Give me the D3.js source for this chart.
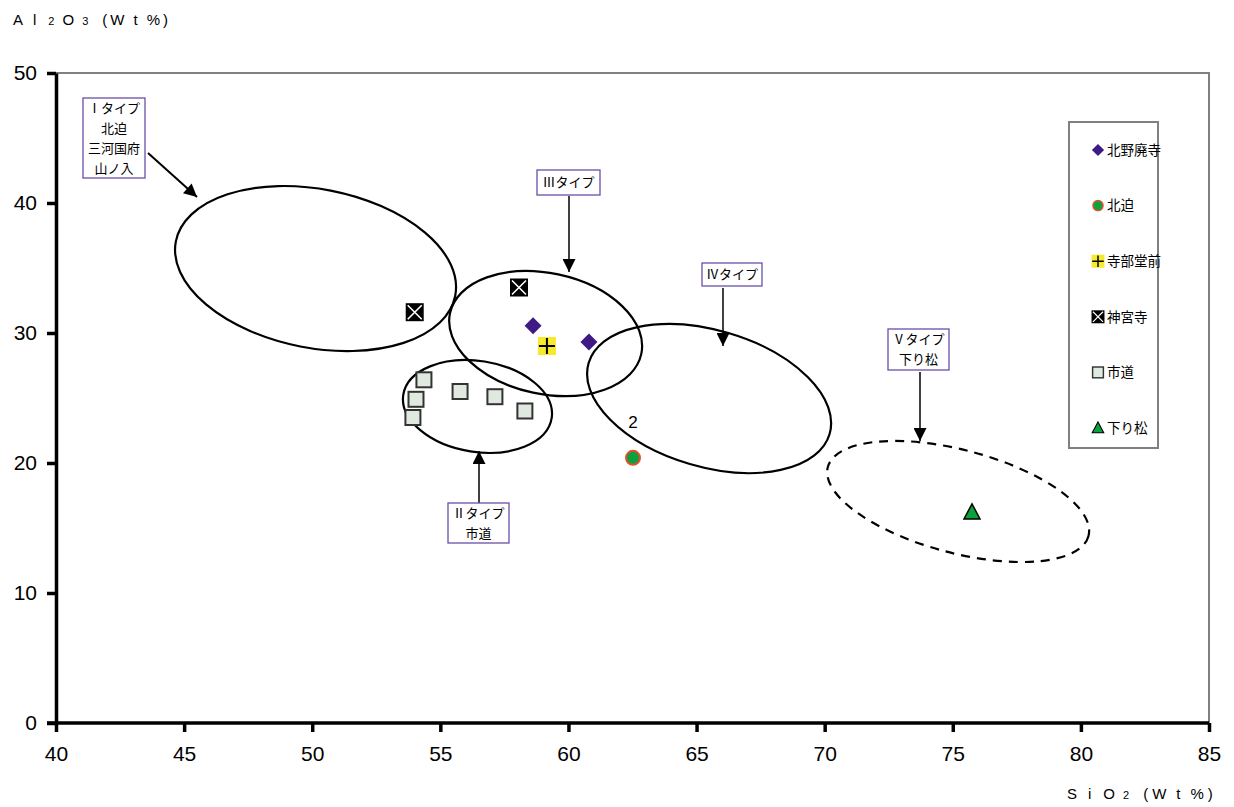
<!DOCTYPE html>
<html><head><meta charset="utf-8">
<script src="https://cdn.jsdelivr.net/npm/d3@7"></script>
<style>
body{margin:0;background:#fff;}
svg{display:block;}
.jp{font-family:"Noto Sans CJK JP","Noto Sans",sans-serif;}
.num{font-family:"Liberation Sans","DejaVu Sans",sans-serif;}
</style></head>
<body>
<svg id="c" width="1234" height="807"></svg>
<script>
// ---- data ----
const xTicks = [40,45,50,55,60,65,70,75,80,85];
const yTicks = [0,10,20,30,40,50];
const seriesNames = ["北野廃寺","北迫","寺部堂前","神宮寺","市道","下り松"];
const kitanoHaiji = [[58.62,30.55],[60.8,29.3]];
const hazama = [[62.52,20.4]];
const terabeDomae = [[59.16,29.0]];
const jinguji = [[54.0,31.6],[58.07,33.5]];
const ichimichi = [[54.36,26.4],[54.05,24.9],[53.93,23.5],[55.77,25.5],[57.13,25.1],[58.3,24.0]];
const sagarimatsu = [[75.75,16.2]];
const pointLabels = [{x:62.52,y:20.4,text:"2"}];
// type-group ellipses: center in data units
const groupCenters = [[50.13,34.96],[59.11,29.96],[56.45,24.35],[65.49,24.96],[75.21,17.04]];
const typeLabels = [["Ⅰタイプ","北迫","三河国府","山ノ入"],["Ⅲタイプ"],["Ⅱタイプ","市道"],["Ⅳタイプ"],["Ⅴタイプ","下り松"]];

// ---- layout ----
const svg = d3.select("#c");
const L=56, R=1209, T=73, B=723;
const x = d3.scaleLinear().domain([40,85]).range([L,R]);
const y = d3.scaleLinear().domain([0,50]).range([B,T]);

svg.append("defs").append("marker").attr("id","ah2").attr("viewBox","0 0 10 10")
  .attr("refX",10).attr("refY",5).attr("markerWidth",15).attr("markerHeight",13)
  .attr("markerUnits","userSpaceOnUse").attr("orient","auto")
  .append("path").attr("d","M0,0L10,5L0,10z").attr("fill","#000");

// frame (gray top/right)
svg.append("path").attr("d",`M${L},${T}H${R}V${B}`).attr("fill","none").attr("stroke","#808080").attr("stroke-width",2);

// axes
const xAxis = svg.append("g").attr("transform",`translate(0,${B})`)
  .call(d3.axisBottom(x).tickValues(xTicks).tickSize(9).tickPadding(14).tickSizeOuter(0));
const yAxis = svg.append("g").attr("transform",`translate(${L},0)`)
  .call(d3.axisLeft(y).tickValues(yTicks).tickSize(9).tickPadding(10).tickSizeOuter(0));
[xAxis,yAxis].forEach(g=>{
  g.select(".domain").attr("stroke","#000").attr("stroke-width",3.5);
  g.selectAll(".tick line").attr("stroke","#000").attr("stroke-width",3.5);
  g.selectAll(".tick text").attr("class","num").attr("font-size",21).attr("fill","#000");
});
xAxis.select(".domain").attr("d",`M${L-9},0H${R}`);

// axis titles
function spacedTitle(px,py,parts){
  const t=svg.append("text").attr("class","num").attr("x",px).attr("y",py).attr("font-size",15).attr("fill","#000");
  parts.forEach(p=>t.append("tspan").attr("font-size",p[1]).attr("dx",p[2]).text(p[0]));
}
spacedTitle(13,25,[["A",15,0],["l",15,10],["2",11,12],["O",15,8],["3",11,8],["(",15,14],["W",15,3],["t",15,9],["%",15,9],[")",15,3]]);
spacedTitle(1067,799,[["S",15,0],["i",15,11],["O",15,12],["2",11,8],["(",15,14],["W",15,4],["t",15,10],["%",15,10],[")",15,4]]);

// ellipses
const ellShape = [
  {rx:142.3, ry:79.4, rot:11, dash:null},
  {rx:97.8, ry:60.4, rot:12, dash:null},
  {rx:75.1, ry:45.5, rot:9, dash:null},
  {rx:125.6, ry:68.3, rot:16.4, dash:null},
  {rx:134.8, ry:51.5, rot:14.8, dash:"9,7"}
];
groupCenters.forEach((c,i)=>{
  const s=ellShape[i];
  svg.append("ellipse").attr("cx",0).attr("cy",0).attr("rx",s.rx).attr("ry",s.ry)
    .attr("transform",`translate(${x(c[0])},${y(c[1])}) rotate(${s.rot})`)
    .attr("fill","none").attr("stroke","#000").attr("stroke-width",2.2)
    .attr("stroke-dasharray",s.dash);
});

// annotation boxes + arrows
const boxes = [
  {x:83,y:98,w:62,h:80,arrow:[148,153,197,197]},
  {x:537,y:170,w:63,h:25,arrow:[569,196,569,272]},
  {x:448,y:503,w:61,h:40,arrow:[479,503,479,451]},
  {x:702,y:263,w:60,h:23,arrow:[723,288,723,346]},
  {x:888,y:329,w:61,h:41,arrow:[920,372,920,441]}
];
boxes.forEach((b,i)=>{
  svg.append("line").attr("x1",b.arrow[0]).attr("y1",b.arrow[1]).attr("x2",b.arrow[2]).attr("y2",b.arrow[3])
    .attr("stroke","#000").attr("stroke-width",i===0?2:1.5).attr("marker-end","url(#ah2)");
  svg.append("rect").attr("x",b.x).attr("y",b.y).attr("width",b.w).attr("height",b.h)
    .attr("fill","#fff").attr("stroke","#6a4fa8").attr("stroke-width",1.3);
  const lines=typeLabels[i];
  const lh=20, y0=b.y+b.h/2-(lines.length-1)*lh/2;
  lines.forEach((s,j)=>{
    svg.append("text").attr("class","jp").attr("x",b.x+b.w/2).attr("y",y0+j*lh)
      .attr("dy","0.36em").attr("text-anchor","middle").attr("font-size",13).attr("fill","#000").text(s);
  });
});

// marker drawing
function drawMarker(g,type){
  if(type===0){ g.append("path").attr("d","M0,-8.5L8.5,0L0,8.5L-8.5,0Z").attr("fill","#3f1a85"); }
  else if(type===1){ g.append("circle").attr("r",7).attr("fill","#0aa23c").attr("stroke","#e0502e").attr("stroke-width",2); }
  else if(type===2){ g.append("rect").attr("x",-9).attr("y",-9).attr("width",18).attr("height",18).attr("fill","#f6ea2a");
    g.append("path").attr("d","M-8,0H8M0,-8V8").attr("stroke","#000").attr("stroke-width",2); }
  else if(type===3){ g.append("rect").attr("x",-9).attr("y",-9).attr("width",18).attr("height",18).attr("fill","#000");
    g.append("path").attr("d","M-7,-7L7,7M7,-7L-7,7").attr("stroke","#fff").attr("stroke-width",1.6); }
  else if(type===4){ g.append("rect").attr("x",-7.5).attr("y",-7.5).attr("width",15).attr("height",15).attr("fill","#dfe9df")
    .attr("stroke","#333").attr("stroke-width",2); }
  else { g.append("path").attr("d","M0,-8.5L8,6.5L-8,6.5Z").attr("fill","#0aa23c").attr("stroke","#000").attr("stroke-width",1.5); }
}
const allSeries=[kitanoHaiji,hazama,terabeDomae,jinguji,ichimichi,sagarimatsu];
allSeries.forEach((arr,k)=>{
  arr.forEach(p=>{
    const g=svg.append("g").attr("transform",`translate(${x(p[0])},${y(p[1])})`);
    drawMarker(g,k);
  });
});
pointLabels.forEach(p=>{
  svg.append("text").attr("class","num").attr("x",x(p.x)).attr("y",y(p.y)-30).attr("text-anchor","middle")
    .attr("font-size",17).attr("fill","#000").text(p.text);
});

// legend
const lg=svg.append("g");
lg.append("rect").attr("x",1069).attr("y",122).attr("width",89).attr("height",326)
  .attr("fill","#fff").attr("stroke","#808080").attr("stroke-width",2);
const legendY=d3.scalePoint().domain(seriesNames).range([150,428]);
seriesNames.forEach((n,k)=>{
  const g=lg.append("g").attr("transform",`translate(1098,${legendY(n)}) scale(0.72)`);
  drawMarker(g,k);
  lg.append("text").attr("class","jp").attr("x",1107).attr("y",legendY(n)).attr("dy","0.36em")
    .attr("font-size",13.5).attr("fill","#000").text(n);
});
</script>
</body></html>
